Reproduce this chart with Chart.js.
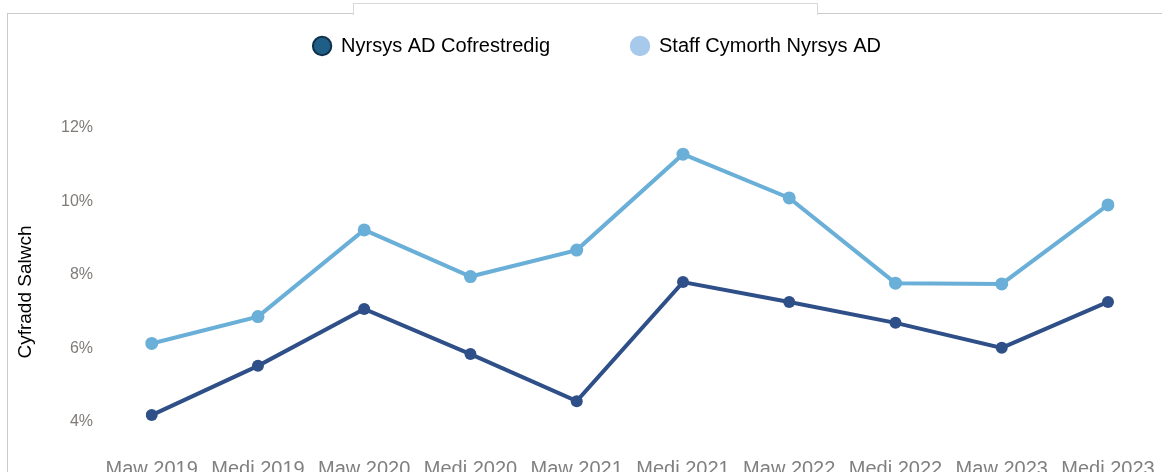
<!DOCTYPE html>
<html>
<head>
<meta charset="utf-8">
<script src="https://cdn.jsdelivr.net/npm/chart.js@4.4.0/dist/chart.umd.min.js"></script>
<style>
  html, body { margin: 0; padding: 0; background: #fff; overflow: hidden; }
  body { width: 1162px; height: 472px; position: relative; }
  .line { position: absolute; background: #cbcbcb; }
  #tab { position: absolute; left: 353px; top: 3px; width: 463px; height: 11px;
         border: 1px solid #d9d9d9; border-bottom: none; background: #fff; }
  #wrap { position: absolute; left: 0; top: -45px; width: 1162px; height: 545px; }
</style>
</head>
<body>
<div class="line" style="left:7px;top:13px;width:1px;height:460px"></div>
<div class="line" style="left:7px;top:13px;width:347px;height:1px"></div>
<div class="line" style="left:817px;top:13px;width:345px;height:1px"></div>
<div id="tab"></div>
<div id="wrap"><canvas id="myChart" width="1162" height="545"></canvas></div>
<script>
var categories = ['Maw 2019', 'Medi 2019', 'Maw 2020', 'Medi 2020', 'Maw 2021',
                  'Medi 2021', 'Maw 2022', 'Medi 2022', 'Maw 2023', 'Medi 2023'];
var registeredNurses = [4.18, 5.52, 7.07, 5.84, 4.56, 7.80, 7.26, 6.69, 6.01, 7.26];
var supportStaff = [6.13, 6.86, 9.22, 7.95, 8.67, 11.28, 10.09, 7.77, 7.75, 9.90];
var yTicks = [4, 6, 8, 10, 12];
var seriesNames = ['Nyrsys AD Cofrestredig', 'Staff Cymorth Nyrsys AD'];
var yTitle = 'Cyfradd Salwch';

var fontName = '"Liberation Sans", Arial, sans-serif';

/* axis title drawn by hand so it sits where the original has it */
var yTitlePlugin = {
  id: 'yTitle',
  afterLayout: function(chart) {
    // nudge the legend right, the original is not centred on the canvas
    chart.legend.left += 39;
    chart.legend.right += 39;
  },
  afterDraw: function(chart) {
    var ctx = chart.ctx;
    ctx.save();
    ctx.translate(26, 337);
    ctx.rotate(-Math.PI / 2);
    ctx.textAlign = 'center';
    ctx.textBaseline = 'middle';
    ctx.font = '19px ' + fontName;
    ctx.fillStyle = '#000';
    ctx.fillText(yTitle, 0, 0);
    ctx.restore();
  }
};

var legendFill = ['#1f5e86', '#a7c9ec'];
var legendStroke = ['#10304a', '#a7c9ec'];

var config = {
  type: 'line',
  data: {
    labels: categories,
    datasets: [{
      label: seriesNames[0],
      data: registeredNurses,
      borderColor: '#2f4f88',
      backgroundColor: '#2f4f88',
      borderWidth: 4,
      pointRadius: 6,
      pointBorderWidth: 0,
      pointStyle: 'circle'
    }, {
      label: seriesNames[1],
      data: supportStaff,
      borderColor: '#6aafd7',
      backgroundColor: '#6aafd7',
      borderWidth: 4,
      pointRadius: 6.5,
      pointBorderWidth: 0,
      pointStyle: 'circle'
    }]
  },
  options: {
    responsive: false,
    animation: false,
    devicePixelRatio: 1,
    layout: { padding: { left: 8, right: 54, top: 0, bottom: 0 } },
    plugins: {
      tooltip: { enabled: false },
      legend: {
        position: 'top',
        labels: {
          usePointStyle: true,
          boxWidth: 18,
          boxHeight: 13,
          padding: 81,
          color: '#000',
          font: { family: fontName, size: 20 },
          generateLabels: function(chart) {
            var items = Chart.defaults.plugins.legend.labels.generateLabels(chart);
            items.forEach(function(item, i) {
              item.fillStyle = legendFill[i];
              item.strokeStyle = legendStroke[i];
              item.lineWidth = 2;
            });
            return items;
          }
        }
      }
    },
    scales: {
      x: {
        grid: { display: false, drawTicks: false },
        border: { display: false },
        ticks: {
          color: '#808080',
          padding: 1,
          maxRotation: 0,
          autoSkip: false,
          font: { family: fontName, size: 20 }
        },
        afterFit: function(scale) { scale.height = 44; }
      },
      y: {
        min: 3.067,
        max: 13.68,
        grid: { display: false, drawTicks: false },
        border: { display: false },
        ticks: {
          color: '#7f7b78',
          padding: 58.7,
          font: { family: fontName, size: 16 },
          callback: function(value) { return value + '%'; }
        },
        afterBuildTicks: function(scale) {
          scale.ticks = yTicks.map(function(v) { return { value: v }; });
        },
        afterFit: function(scale) {
          scale.width = 143.7;
          scale.paddingTop = 0;
          scale.paddingBottom = 0;
        }
      }
    }
  },
  plugins: [yTitlePlugin]
};

window.onload = function() {
  var ctx = document.getElementById('myChart').getContext('2d');
  window.lineChart = new Chart(ctx, config);
};
</script>
</body>
</html>
